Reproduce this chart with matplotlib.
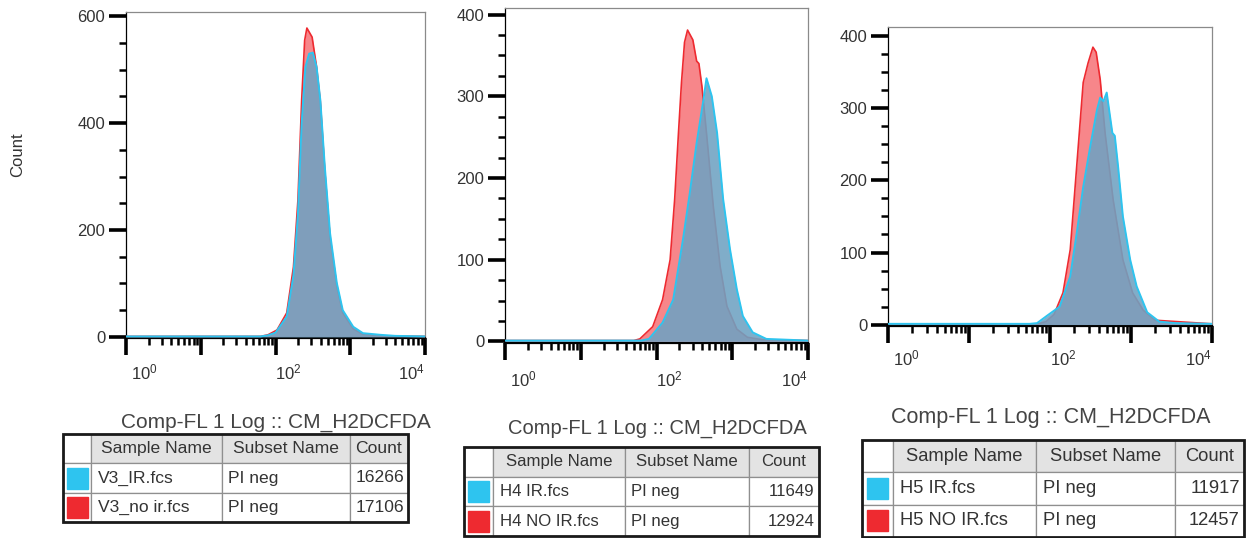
import numpy as np
import matplotlib as mpl
mpl.use('Agg')
import matplotlib.pyplot as plt
from matplotlib.ticker import LogLocator, MultipleLocator, NullFormatter
from matplotlib.patches import Rectangle
from matplotlib.transforms import blended_transform_factory

plt.rcParams['font.family'] = ['Liberation Sans', 'DejaVu Sans']
plt.rcParams['mathtext.fontset'] = 'custom'
plt.rcParams['mathtext.rm'] = 'Liberation Sans'
plt.rcParams['mathtext.it'] = 'Liberation Sans:italic'

# histogram traces, x in log10 units (Comp-FL 1 Log), y = count
v3_ir_x  = [0.0, 1.80, 1.90, 2.00, 2.15, 2.24, 2.30, 2.35, 2.40, 2.45, 2.50, 2.55, 2.60, 2.66, 2.73, 2.82, 2.90, 3.04, 3.17, 3.25, 3.40, 3.60, 4.0]
v3_ir_y  = [1, 1, 3, 8, 38, 115, 230, 400, 505, 530, 532, 505, 443, 318, 194, 101, 50, 19, 7, 6, 4, 2, 1]
v3_no_x  = [0.0, 1.80, 1.90, 2.02, 2.15, 2.24, 2.30, 2.35, 2.39, 2.42, 2.49, 2.55, 2.60, 2.66, 2.73, 2.82, 2.90, 3.04, 3.17, 3.40, 4.0]
v3_no_y  = [1, 1, 4, 13, 45, 131, 256, 443, 555, 578, 561, 505, 440, 310, 185, 95, 45, 15, 5, 2, 1]

h4_ir_x  = [0.0, 1.80, 1.90, 2.08, 2.22, 2.35, 2.44, 2.53, 2.62, 2.66, 2.73, 2.80, 2.88, 2.97, 3.06, 3.14, 3.27, 3.45, 4.0]
h4_ir_y  = [1, 1, 3, 23, 51, 125, 182, 243, 296, 322, 300, 255, 174, 113, 64, 31, 11, 3, 1]
h4_no_x  = [0.0, 1.70, 1.78, 1.95, 2.08, 2.18, 2.24, 2.29, 2.33, 2.37, 2.41, 2.48, 2.53, 2.56, 2.60, 2.66, 2.75, 2.84, 2.93, 3.06, 3.20, 3.40, 4.0]
h4_no_y  = [1, 1, 3, 18, 51, 100, 174, 255, 317, 366, 381, 369, 343, 340, 312, 255, 165, 92, 43, 15, 5, 2, 1]

h5_ir_x  = [0.0, 1.75, 1.84, 1.96, 2.12, 2.25, 2.33, 2.41, 2.49, 2.58, 2.62, 2.66, 2.70, 2.77, 2.80, 2.84, 2.90, 2.99, 3.07, 3.20, 3.35, 3.55, 4.0]
h5_ir_y  = [1, 1, 2, 12, 25, 67, 127, 191, 243, 298, 315, 310, 322, 266, 262, 220, 150, 90, 53, 17, 4, 2, 1]
h5_no_x  = [0.0, 1.85, 1.95, 2.05, 2.16, 2.25, 2.33, 2.41, 2.47, 2.53, 2.57, 2.62, 2.68, 2.78, 2.90, 3.02, 3.15, 3.30, 4.0]
h5_no_y  = [1, 1, 4, 14, 44, 104, 220, 336, 363, 385, 378, 340, 266, 173, 90, 44, 20, 6, 1]

# legend tables
col_labels = ['', 'Sample Name', 'Subset Name', 'Count']
v3_samples = ['V3_IR.fcs', 'V3_no ir.fcs']
h4_samples = ['H4 IR.fcs', 'H4 NO IR.fcs']
h5_samples = ['H5 IR.fcs', 'H5 NO IR.fcs']
subsets = ['PI neg', 'PI neg']
v3_counts = [16266, 17106]
h4_counts = [11649, 12924]
h5_counts = [11917, 12457]
axis_title = 'Comp-FL 1 Log :: CM_H2DCFDA'
x_labels = [0, 2, 4]          # labelled decades

W, H = 1248, 538
CYAN, RED = '#2ec4ef', '#ee2a30'
TXT = '#333333'

fig = plt.figure(figsize=(W / 100, H / 100), dpi=100)


def px(l, t, r, b):
    # pixel box -> figure fraction rect
    return [l / W, 1 - b / H, (r - l) / W, (b - t) / H]


def hist_panel(rect, ir, no, ymax, ystep, yminor, lab_dy):
    ax = fig.add_axes(rect)
    nx, ny = 10 ** np.array(no[0]), np.array(no[1])
    ix, iy = 10 ** np.array(ir[0]), np.array(ir[1])
    ax.fill_between(nx, 0, ny, color='#f7868a', lw=0, zorder=2)
    ax.plot(nx, ny, color=RED, lw=1.2, zorder=3)
    ax.fill_between(ix, 0, iy, color='#6fa2c2', alpha=0.88, lw=0, zorder=4)
    ax.plot(ix, iy, color=CYAN, lw=1.4, zorder=5)
    ax.set_xscale('log')
    ax.set_xlim(1, 1e4)
    ax.set_ylim(-2, ymax)
    ax.xaxis.set_major_locator(LogLocator(base=10, numticks=10))
    ax.xaxis.set_minor_locator(LogLocator(base=10, subs=np.arange(2, 10), numticks=20))
    ax.xaxis.set_major_formatter(NullFormatter())
    ax.xaxis.set_minor_formatter(NullFormatter())
    ax.yaxis.set_major_locator(MultipleLocator(ystep))
    ax.yaxis.set_minor_locator(MultipleLocator(yminor))
    ax.tick_params(which='major', length=12, width=2.6, color='black',
                   labelsize=12, labelcolor=TXT, pad=3)
    ax.tick_params(which='minor', length=5, width=1.8, color='black')
    for s in ax.spines.values():
        s.set_color('#8a8a8a')
        s.set_linewidth(0.9)
    ax.spines['left'].set_color('black')
    ax.spines['bottom'].set_color('black')
    ax.spines['bottom'].set_linewidth(1.6)
    # decade labels, drawn a little off their ticks as in the FlowJo export
    tr = blended_transform_factory(ax.transData, ax.transAxes)
    for e, dx in zip(x_labels, [18, 13, -14]):
        ax.annotate(r'$10^{%d}$' % e, xy=(10.0 ** e, 0), xycoords=tr,
                    xytext=(dx * 0.72, -lab_dy * 0.72), textcoords='offset points',
                    ha='center', va='center', fontsize=12, color=TXT)
    return ax


def legend_table(l, t, r, b, col_px, samples, counts, title_x, title_y, tfs, fs):
    tab = fig.add_axes(px(l, t, r, b))
    tab.set_axis_off()
    tab.set_xlim(0, 1)
    tab.set_ylim(0, 1)
    cells = [[''] + [samples[i], subsets[i], str(counts[i])] for i in range(2)]
    widths = np.diff(col_px) / (r - l)
    tb = tab.table(cellText=cells, colLabels=col_labels, colWidths=list(widths),
                   bbox=[0, 0, 1, 1], cellLoc='left')
    tb.auto_set_font_size(False)
    for (ri, ci), cell in tb.get_celld().items():
        cell.set_edgecolor('#8f8f8f')
        cell.set_linewidth(0.9)
        txt = cell.get_text()
        txt.set_fontsize(fs)
        txt.set_color(TXT)
        cell.PAD = 0.05
        if ri == 0:
            cell.set_facecolor('white' if ci == 0 else '#e3e3e3')
            txt.set_ha('center')
        elif ci == 3:
            txt.set_ha('right')
            cell.PAD = 0.06
    # colour swatches
    rowh = (b - t) / 3
    sw = 21
    for k, c in enumerate([CYAN, RED]):
        cy = t + rowh * (k + 1) + rowh / 2
        cx = (col_px[0] + col_px[1]) / 2
        tab.add_patch(Rectangle(((cx - sw / 2 - l) / (r - l), 1 - (cy + sw / 2 - t) / (b - t)),
                                sw / (r - l), sw / (b - t), color=c, zorder=10))
    tab.add_patch(Rectangle((0, 0), 1, 1, fill=False, ec='#1a1a1a', lw=2.0, zorder=11,
                            clip_on=False))
    fig.text(title_x / W, 1 - title_y / H, axis_title, ha='center', va='center',
             fontsize=tfs, color='#444444')


hist_panel(px(126, 12, 425, 338), (v3_ir_x, v3_ir_y), (v3_no_x, v3_no_y), 608, 200, 50, 34)
hist_panel(px(505, 8, 808, 343), (h4_ir_x, h4_ir_y), (h4_no_x, h4_no_y), 408, 100, 25, 36)
hist_panel(px(888, 27, 1212, 326), (h5_ir_x, h5_ir_y), (h5_no_x, h5_no_y), 413, 100, 25, 32)
fig.text(18 / W, 1 - 155 / H, 'Count', rotation=90, ha='center', va='center',
         fontsize=12, color=TXT)

legend_table(63, 434, 408, 522, [63, 91, 222, 350, 408], v3_samples, v3_counts,
             276, 422, 15, 12.6)
legend_table(464, 447, 819, 536, [464, 493, 625, 749, 819], h4_samples, h4_counts,
             657, 428, 14.5, 12.1)
legend_table(862, 440, 1244, 537, [862, 893, 1036, 1175, 1244], h5_samples, h5_counts,
             1051, 417, 15.5, 13.2)

fig.savefig('out.png', dpi=100)
